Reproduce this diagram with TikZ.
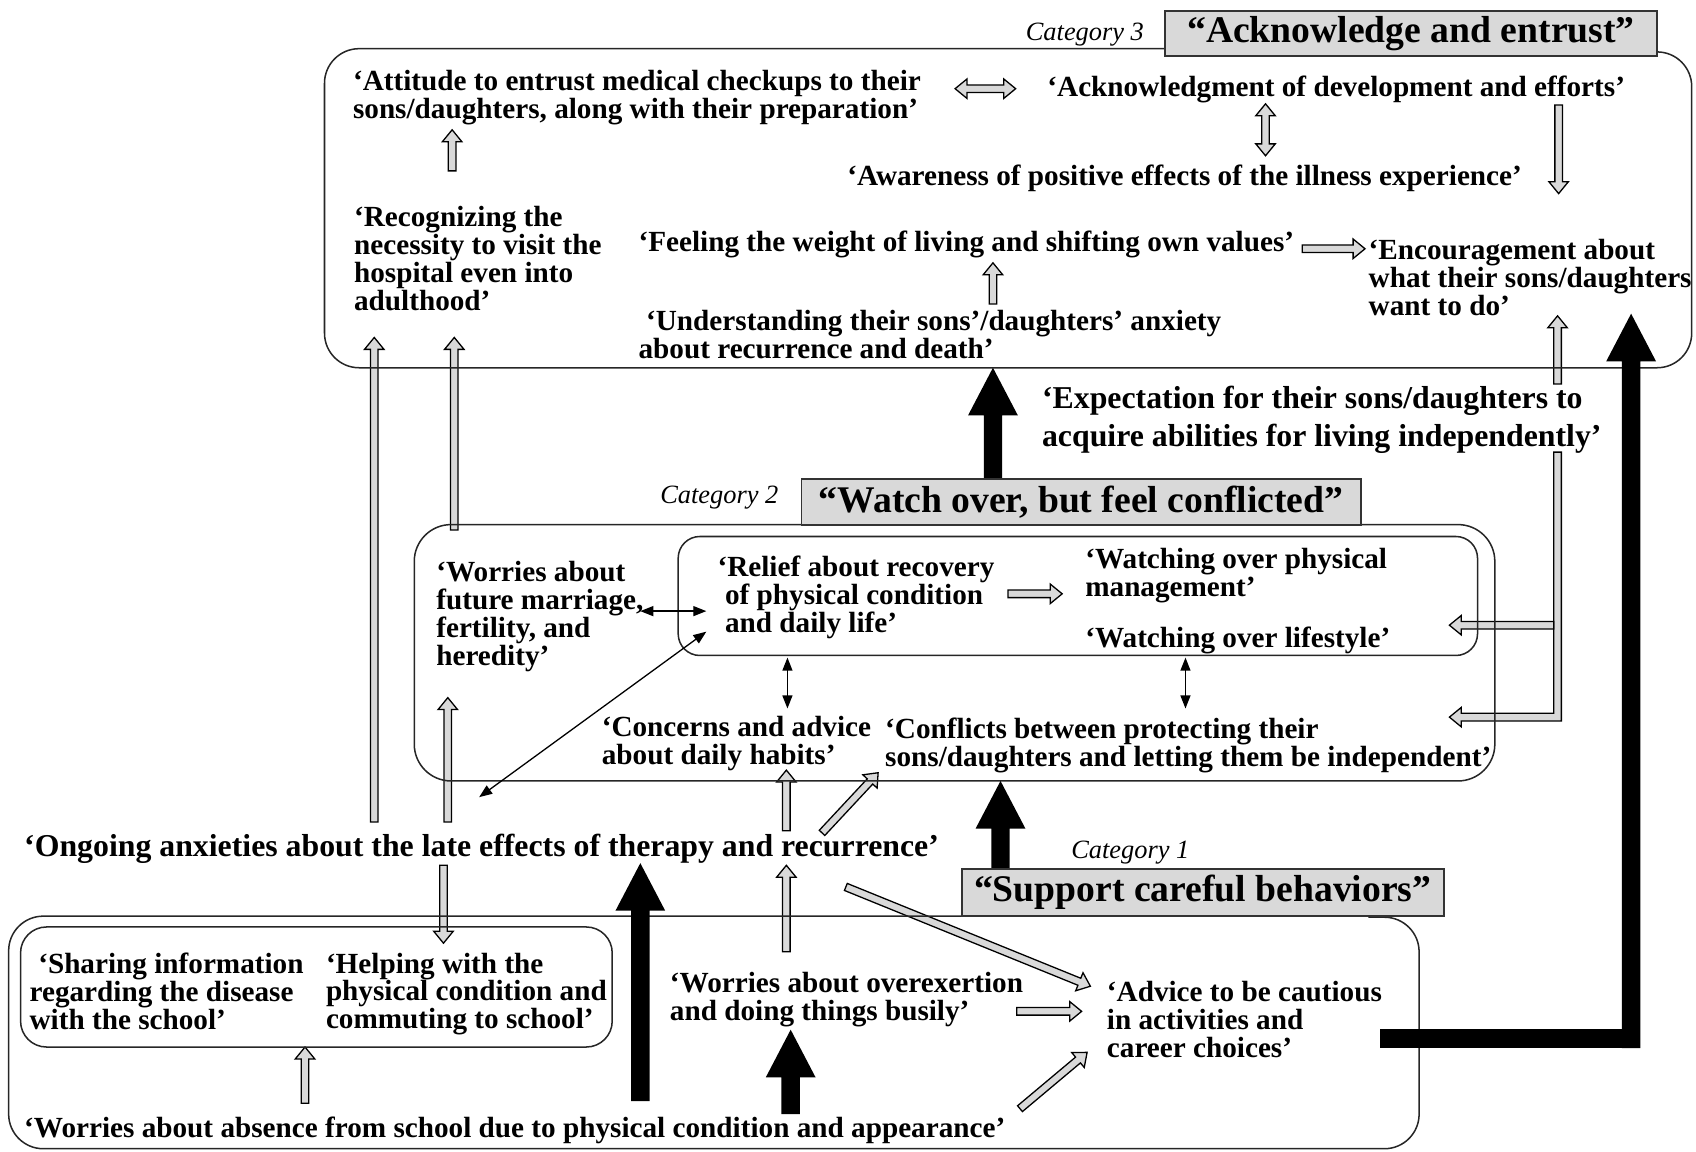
\documentclass[tikz,border=0pt]{standalone}
\usepackage{fontspec}
\setmainfont{Liberation Serif}
\usetikzlibrary{arrows.meta}
\definecolor{lg}{HTML}{D9D9D9}
\tikzset{
 tx/.style={font=\fontsize{13.5pt}{12.9pt}\selectfont\bfseries, align=left, inner sep=0pt, anchor=north west, yshift=9.25pt},
 txl/.style={tx, font=\fontsize{14.7pt}{17.5pt}\selectfont\bfseries, yshift=0.85pt},
 cat/.style={font=\fontsize{12.2pt}{13pt}\selectfont\itshape, inner sep=0pt},
 lab/.style={draw=black!80, line width=0.9pt, fill=lg, inner sep=0pt, font=\fontsize{17.4pt}{18pt}\selectfont\bfseries},
 box/.style={draw=black!85, line width=0.7pt},
 gfill/.style={fill=lg, draw=black, line width=0.6pt},
 tarr/.style={line width=0.6pt, {Triangle[length=6pt,width=4.6pt]}-{Triangle[length=6pt,width=4.6pt]}},
 pics/garr/.style={code={\filldraw[gfill] (0,-3.5) -- ({#1-11},-3.5) -- ({#1-11},-9) -- (#1,0) -- ({#1-11},9) -- ({#1-11},3.5) -- (0,3.5) -- cycle;}},
 pics/garrd/.style={code={\filldraw[gfill] (0,0) -- (11,-9) -- (11,-3.5) -- ({#1-11},-3.5) -- ({#1-11},-9) -- (#1,0) -- ({#1-11},9) -- ({#1-11},3.5) -- (11,3.5) -- (11,9) -- cycle;}},
 pics/barr/.style={code={\fill (0,-8.5) -- ({#1-44},-8.5) -- ({#1-44},-23) -- (#1,0) -- ({#1-44},23) -- ({#1-44},8.5) -- (0,8.5) -- cycle;}},
}
\begin{document}
\begin{tikzpicture}[x=0.5pt,y=-0.5pt]
\useasboundingbox (0,0) rectangle (1568,1065);
% gray block arrows
\pic at (883,82) {garrd=56};
\pic[rotate=90] at (1170,144) {garrd=48};
\pic[rotate=-90] at (1441,97) {garr=82};
\pic[rotate=90] at (418,158) {garr=38};
\pic at (1204,230) {garr=58};
\pic[rotate=90] at (918,281) {garr=38};
\pic[rotate=90] at (1440,355) {garr=63};
\pic[rotate=90] at (346,760) {garr=448};
\pic[rotate=90] at (420,490) {garr=178};
\pic[rotate=90] at (414,760) {garr=115};
\pic at (932,549) {garr=50};
\filldraw[gfill] (1436.5,418) -- (1443.5,418) -- (1443.5,666.5) -- (1351,666.5) -- (1351,672) -- (1340,663) -- (1351,654) -- (1351,659.5) -- (1436.5,659.5) -- cycle;
\pic[rotate=180] at (1436.5,578) {garr=96.5};
\pic[rotate=90] at (727,768) {garr=56};
\pic[rotate=47] at (760,770) {garr=76};
\pic[rotate=-90] at (410,800) {garr=72};
\pic[rotate=90] at (282,1020) {garr=52};
\pic[rotate=90] at (727,880) {garr=80};
\pic at (940,935) {garr=60};
\pic[rotate=-22.1] at (782,820) {garr=244};
\pic[rotate=40] at (943,1025) {garr=81};
% category boxes
\draw[box, rounded corners=16pt] (1077,45) -- (300,45) -- (300,340) -- (1564,340) -- (1564,48) -- (1500,48);
\draw[box, rounded corners=17pt] (741,485) -- (383,485) -- (383,722) -- (1382,722) -- (1382,485) -- (1258,485);
\draw[box, rounded corners=16pt] (889,847) -- (8,847) -- (8,1062) -- (1312,1062) -- (1312,848) -- (1265,848);
\draw[box, rounded corners=10pt] (627,496) rectangle (1366,606);
\draw[box, rounded corners=12pt] (19,857) rectangle (566,968);
% black arrows
\pic[rotate=90] at (918,443) {barr=103};
\pic[rotate=90] at (925,803) {barr=81};
\pic[rotate=90] at (592,1018) {barr=220};
\pic[rotate=90] at (731,1030) {barr=78};
\fill (1276,951) rectangle (1516.5,969);
\pic[rotate=90] at (1508,969) {barr=679};
\draw[tarr] (592,565) -- (653,565);
\draw[tarr] (728,608) -- (728,655);
\draw[tarr] (1096,608) -- (1096,655);
\draw[tarr] (443,737) -- (653,584);
% labels
\node[lab, minimum width=227.5pt, minimum height=21pt] (L3) at (1304.5,31) {“Acknowledge and entrust”};
\node[lab, minimum width=258.5pt, minimum height=21pt] (L2) at (999.5,464) {“Watch over, but feel conflicted”};
\node[lab, minimum width=223pt, minimum height=22pt] (L1) at (1112,825) {“Support careful behaviors”};
\node[cat] (c3) at (1003,32) {Category 3};
\node[cat] (c2) at (665,460) {Category 2};
\node[cat] (c1) at (1045,788) {Category 1};
% texts category 3
\node[tx] (att) at (326,83) {‘Attitude to entrust medical checkups to their\\sons/daughters, along with their preparation’};
\node[tx] (ack) at (968,88) {‘Acknowledgment of development and efforts’};
\node[tx] (awa) at (783,171) {‘Awareness of positive effects of the illness experience’};
\node[tx] (rec) at (327,209) {‘Recognizing the\\necessity to visit the\\hospital even into\\adulthood’};
\node[tx] (fee) at (590,232) {‘Feeling the weight of living and shifting own values’};
\node[tx] (enc) at (1265,239) {‘Encouragement about\\what their sons/daughters\\want to do’};
\node[tx] (und) at (590,305) {\hspace*{3.5pt}‘Understanding their sons’/daughters’ anxiety\\about recurrence and death’};
\node[txl] (exp) at (963,377) {‘Expectation for their sons/daughters to\\acquire abilities for living independently’};
% texts category 2
\node[tx] (mar) at (403,537) {‘Worries about\\future marriage,\\fertility, and\\heredity’};
\node[tx] (rel) at (663,532) {‘Relief about recovery\\\hspace*{3.5pt}of physical condition\\\hspace*{3.5pt}and daily life’};
\node[tx] (wph) at (1003,525) {‘Watching over physical\\management’};
\node[tx] (wls) at (1003,598) {‘Watching over lifestyle’};
\node[tx] (con) at (556,680) {‘Concerns and advice\\about daily habits’};
\node[tx] (cfl) at (818,682) {‘Conflicts between protecting their\\sons/daughters and letting them be independent’};
\node[txl] (ong) at (22,791) {‘Ongoing anxieties about the late effects of therapy and recurrence’};
% texts category 1
\node[tx] (sha) at (27,899) {\hspace*{4pt}‘Sharing information\\regarding the disease\\with the school’};
\node[tx] (hel) at (301,899) {‘Helping with the\\physical condition and\\commuting to school’};
\node[tx] (ove) at (619,917) {‘Worries about overexertion\\and doing things busily’};
\node[tx] (adv) at (1023,925) {‘Advice to be cautious\\in activities and\\career choices’};
\node[tx] (abs) at (22,1051) {‘Worries about absence from school due to physical condition and appearance’};
\end{tikzpicture}
\end{document}
